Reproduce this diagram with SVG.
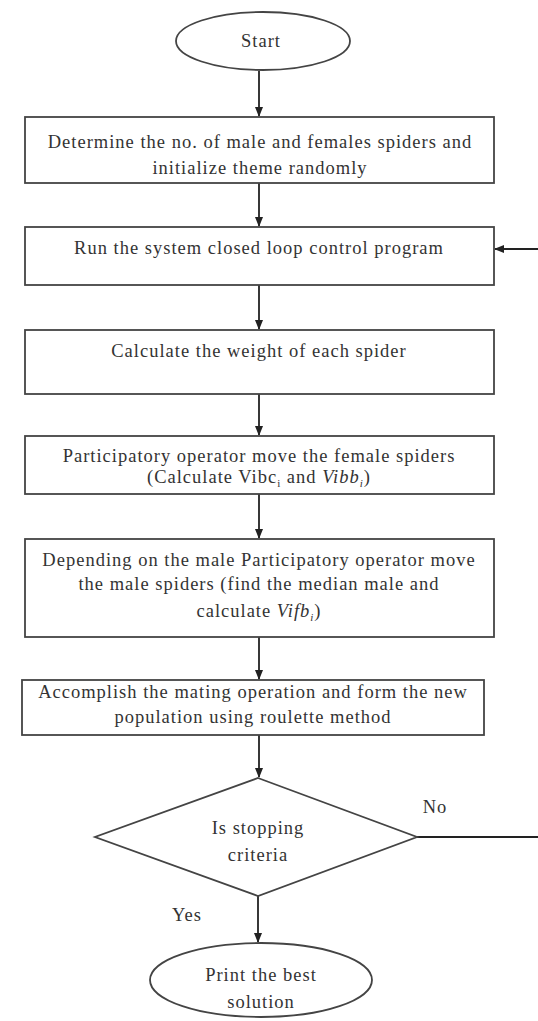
<svg xmlns="http://www.w3.org/2000/svg" width="538" height="1021" viewBox="0 0 538 1021">
<defs>
<marker id="ah" markerWidth="10" markerHeight="10" refX="9" refY="5" orient="auto" markerUnits="userSpaceOnUse">
<path d="M0,1 L10,5 L0,9 Z" fill="#222"/>
</marker>
<style>
.shape{fill:#fff;stroke:#444;stroke-width:1.8}
.t{font-family:"Liberation Serif","Times New Roman",serif;font-size:18.5px;letter-spacing:1px;fill:#333;text-anchor:middle}
.c{fill:none;stroke:#222;stroke-width:1.8}
</style>
</defs>
<rect width="538" height="1021" fill="#fff"/>
<g id="connectors">
<path class="c" d="M259,71 V116" marker-end="url(#ah)"/>
<path class="c" d="M259,183 V226" marker-end="url(#ah)"/>
<path class="c" d="M259,285 V329" marker-end="url(#ah)"/>
<path class="c" d="M259,394 V435" marker-end="url(#ah)"/>
<path class="c" d="M259,494 V538" marker-end="url(#ah)"/>
<path class="c" d="M259,637 V679" marker-end="url(#ah)"/>
<path class="c" d="M259,735 V777" marker-end="url(#ah)"/>
<path class="c" d="M258,896 V942" marker-end="url(#ah)"/>
<path class="c" d="M417,837 H538"/>
<path class="c" d="M538,249 H495" marker-end="url(#ah)"/>
<text class="t" x="435" y="813">No</text>
<text class="t" x="187" y="921">Yes</text>
</g>
<g id="start">
<ellipse class="shape" cx="263" cy="41" rx="87" ry="29"/>
<text class="t" x="261" y="47" font-size="20">Start</text>
</g>
<g id="init">
<rect class="shape" x="25" y="117" width="469" height="66"/>
<text class="t" x="260" y="148">Determine the no. of male and females spiders and</text>
<text class="t" x="260" y="174">initialize theme randomly</text>
</g>
<g id="run">
<rect class="shape" x="25" y="227" width="469" height="58"/>
<text class="t" x="259" y="254">Run the system closed loop control program</text>
</g>
<g id="weight">
<rect class="shape" x="25" y="330" width="469" height="64"/>
<text class="t" x="259" y="357">Calculate the weight of each spider</text>
</g>
<g id="female">
<rect class="shape" x="25" y="436" width="469" height="58"/>
<text class="t" x="259" y="462">Participatory operator move the female spiders</text>
<text class="t" x="259" y="483">(Calculate Vibc<tspan font-size="11" dy="4">i</tspan><tspan dy="-4"> and </tspan><tspan font-style="italic">Vibb</tspan><tspan font-style="italic" font-size="11" dy="4">i</tspan><tspan dy="-4">)</tspan></text>
</g>
<g id="male">
<rect class="shape" x="25" y="539" width="469" height="98"/>
<text class="t" x="259" y="566">Depending on the male Participatory operator move</text>
<text class="t" x="259" y="590">the male spiders (find the median male and</text>
<text class="t" x="259" y="617">calculate <tspan font-style="italic">Vifb</tspan><tspan font-style="italic" font-size="11" dy="4">i</tspan><tspan dy="-4">)</tspan></text>
</g>
<g id="mating">
<rect class="shape" x="22" y="680" width="462" height="55"/>
<text class="t" x="253" y="698">Accomplish the mating operation and form the new</text>
<text class="t" x="253" y="723">population using roulette method</text>
</g>
<g id="decision">
<polygon class="shape" points="258,778 417,837 258,896 95,837"/>
<text class="t" x="258" y="834">Is stopping</text>
<text class="t" x="258" y="861">criteria</text>
</g>
<g id="end">
<ellipse class="shape" cx="261" cy="980" rx="111" ry="37"/>
<text class="t" x="261" y="981">Print the best</text>
<text class="t" x="261" y="1008">solution</text>
</g>
</svg>
